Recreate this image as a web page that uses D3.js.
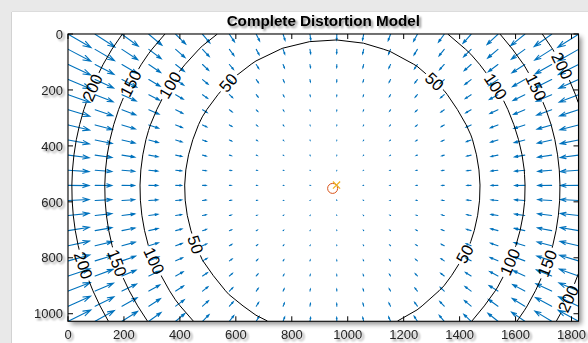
<!DOCTYPE html>
<html><head><meta charset="utf-8">
<script src="https://cdn.jsdelivr.net/npm/d3@7"></script>
<style>body{margin:0;background:#fff}svg{display:block}</style>
</head><body><svg id="c" width="588" height="343"></svg>
<script>
// ---------------- data ----------------
const gridX = [0,96,192,288,384,480,576,672,768,864,960,1056,1152,1248,1344,1440,1536,1632,1728,1824];
const gridY = [0,54,108,162,216,270,324,378,432,486,540,594,648,702,756,810,864,918,972,1026];
const principalPoint = [945, 551];      // 'o' marker, centre of distortion
const imageCenter = [960, 540];          // 'x' marker
const radialCoeffs = [375.5, -147.3];    // displacement(px) = k1*rho^3 + k2*rho^5, rho = r/1000
const contourLevels = [50, 100, 150, 200];
// contour label anchors: [level, x, y] in image pixels
const contourLabels = [
  [200, 89, 193], [150, 221, 175], [100, 364, 182], [50, 570, 172],
  [50, 1308, 172], [100, 1525, 190], [150, 1668, 193], [200, 1757, 118],
  [200, 36, 833], [150, 175, 819], [100, 299, 815], [50, 453, 754],
  [50, 1425, 790], [100, 1579, 815], [150, 1711, 819], [200, 1782, 944]
];
const xTicks = [0,200,400,600,800,1000,1200,1400,1600,1800];
const yTicks = [0,200,400,600,800,1000];
const xDomain = [0, 1825];
const yDomain = [0, 1027];
const titleText = "Complete Distortion Model";

// ---------------- layout / style ----------------
const W = 588, H = 343;
const plotLeft = 68, plotTop = 34, pxPerUnit = 0.27973;
const font = "'Liberation Sans', Arial, Helvetica, sans-serif";
const axisColor = "#262626";
const arrowColor = "#0072BD";

const svg = d3.select("#c");
const defs = svg.append("defs");

function shadowFilter(id, blur, off, op) {
  const f = defs.append("filter").attr("id", id)
    .attr("x", "-30%").attr("y", "-30%").attr("width", "160%").attr("height", "160%");
  f.append("feGaussianBlur").attr("in", "SourceAlpha").attr("stdDeviation", blur);
  f.append("feOffset").attr("dx", off).attr("dy", off).attr("result", "o");
  const ct = f.append("feComponentTransfer").attr("result", "s");
  ct.append("feFuncA").attr("type", "linear").attr("slope", op);
  const m = f.append("feMerge");
  m.append("feMergeNode").attr("in", "s");
  m.append("feMergeNode").attr("in", "SourceGraphic");
}
shadowFilter("tsh", 1.2, 1.5, 0.45);
shadowFilter("bsh", 2.5, 3, 0.45);

// window frame
svg.append("rect").attr("width", W).attr("height", H).attr("fill", "#e9e9e9");
svg.append("rect").attr("x", 12).attr("y", 12).attr("width", W - 12).attr("height", H - 12).attr("fill", "#ffffff");
svg.append("line").attr("x1", 11.5).attr("x2", 11.5).attr("y1", 12).attr("y2", H).attr("stroke", "#d2d2d2");
svg.append("line").attr("x1", 12).attr("x2", W).attr("y1", 11.5).attr("y2", 11.5).attr("stroke", "#dcdcdc");

const x = d3.scaleLinear().domain(xDomain).range([plotLeft, plotLeft + (xDomain[1] - xDomain[0]) * pxPerUnit]);
const y = d3.scaleLinear().domain(yDomain).range([plotTop, plotTop + (yDomain[1] - yDomain[0]) * pxPerUnit]);
const [x0, x1] = x.range(), [y0, y1] = y.range();

// axes background with shadow
svg.append("rect").attr("x", x0).attr("y", y0).attr("width", x1 - x0).attr("height", y1 - y0)
  .attr("fill", "#fff").attr("filter", "url(#bsh)");

defs.append("clipPath").attr("id", "plotclip").append("rect")
  .attr("x", x0).attr("y", y0).attr("width", x1 - x0).attr("height", y1 - y0);

// distortion model
function disp(px, py) {
  const dx = px - principalPoint[0], dy = py - principalPoint[1];
  const r = Math.hypot(dx, dy), rho = r / 1000;
  const m = radialCoeffs[0] * rho ** 3 + radialCoeffs[1] * rho ** 5;
  return r ? [-m * dx / r, -m * dy / r, m] : [0, 0, 0];
}

// ---------------- quiver ----------------
const pts = [];
gridY.forEach(gy => gridX.forEach(gx => {
  const d = disp(gx, gy);
  pts.push({ x: gx + 1, y: gy + 1, u: d[0], v: d[1] });
}));
const nn = Math.sqrt(pts.length);
const delx = (d3.max(gridX) - d3.min(gridX)) / nn, dely = (d3.max(gridY) - d3.min(gridY)) / nn;
const del = delx * delx + dely * dely;
const maxlen = d3.max(pts, p => Math.sqrt((p.u * p.u + p.v * p.v) / del));
const autoscale = 0.9 / maxlen;
const alpha = 0.3, beta = 0.33;
const arrowPath = pts.map(p => {
  const u = p.u * autoscale, v = p.v * autoscale;
  const tx = p.x + u, ty = p.y + v;
  const h1x = tx - alpha * (u + beta * v), h1y = ty - alpha * (v - beta * u);
  const h2x = tx - alpha * (u - beta * v), h2y = ty - alpha * (v + beta * u);
  return `M${x(p.x)},${y(p.y)}L${x(tx)},${y(ty)}M${x(h1x)},${y(h1y)}L${x(tx)},${y(ty)}L${x(h2x)},${y(h2y)}`;
}).join("");
const plot = svg.append("g").attr("clip-path", "url(#plotclip)");
plot.append("path").attr("d", arrowPath).attr("fill", "none")
  .attr("stroke", arrowColor).attr("stroke-width", 1.1).attr("stroke-linecap", "round");

// ---------------- contours ----------------
const values = [];
gridY.forEach(gy => gridX.forEach(gx => values.push(disp(gx, gy)[2])));
const nX = gridX.length, nY = gridY.length;
const cs = d3.contours().size([nX, nY]).thresholds(contourLevels)(values);
const stepX = gridX[1] - gridX[0], stepY = gridY[1] - gridY[0];
const toPx = p => [x(gridX[0] + (p[0] - 0.5) * stepX), y(gridY[0] + (p[1] - 0.5) * stepY)];
const interior = p => p[0] > 0 && p[0] < nX && p[1] > 0 && p[1] < nY;
const lines = [];
cs.forEach(c => c.coordinates.forEach(poly => poly.forEach(ring => {
  const rp = ring.slice(0, -1);
  const bi = rp.findIndex(p => !interior(p));
  if (bi < 0) { lines.push({ level: c.value, pts: rp.concat([rp[0]]).map(toPx) }); return; }
  const rot = rp.slice(bi).concat(rp.slice(0, bi));
  let cur = [];
  rot.forEach(p => {
    if (interior(p)) cur.push(p);
    else { if (cur.length > 1) lines.push({ level: c.value, pts: cur.map(toPx) }); cur = []; }
  });
  if (cur.length > 1) lines.push({ level: c.value, pts: cur.map(toPx) });
})));

// label placement on nearest contour segment
const labelFs = 16.5;
const mask = defs.append("mask").attr("id", "lblmask").attr("maskUnits", "userSpaceOnUse")
  .attr("x", 0).attr("y", 0).attr("width", W).attr("height", H);
mask.append("rect").attr("width", W).attr("height", H).attr("fill", "white");
const placed = contourLabels.map(([lev, lx, ly]) => {
  const P = [x(lx), y(ly)];
  let best = null;
  lines.filter(l => l.level === lev).forEach(l => {
    for (let i = 0; i < l.pts.length - 1; i++) {
      const a = l.pts[i], b = l.pts[i + 1];
      const vx = b[0] - a[0], vy = b[1] - a[1];
      const L2 = vx * vx + vy * vy || 1;
      let t = ((P[0] - a[0]) * vx + (P[1] - a[1]) * vy) / L2;
      t = Math.max(0, Math.min(1, t));
      const q = [a[0] + t * vx, a[1] + t * vy];
      const d = Math.hypot(q[0] - P[0], q[1] - P[1]);
      if (!best || d < best.d) best = { d, q, ang: Math.atan2(vy, vx) * 180 / Math.PI };
    }
  });
  let ang = best ? best.ang : 0;
  if (ang > 90) ang -= 180;
  if (ang <= -90) ang += 180;
  const q = best ? best.q : P;
  const w = String(lev).length * 0.556 * labelFs + 5, h = labelFs * 0.85;
  mask.append("rect").attr("x", -w / 2).attr("y", -h / 2).attr("width", w).attr("height", h)
    .attr("fill", "black").attr("transform", `translate(${q[0]},${q[1]}) rotate(${ang})`);
  return { lev, q, ang };
});

const lineGen = d3.line();
const cg = plot.append("g").attr("mask", "url(#lblmask)");
cg.selectAll("path.ct").data(lines).join("path").attr("class", "ct")
  .attr("d", l => lineGen(l.pts)).attr("fill", "none").attr("stroke", "#000").attr("stroke-width", 1);

plot.selectAll("text.cl").data(placed).join("text").attr("class", "cl")
  .attr("transform", d => `translate(${d.q[0]},${d.q[1]}) rotate(${d.ang})`)
  .attr("text-anchor", "middle").attr("dy", "0.36em")
  .attr("font-family", font).attr("font-size", labelFs).attr("fill", "#000")
  .text(d => d.lev);

// ---------------- markers ----------------
svg.append("circle").attr("cx", x(principalPoint[0] + 1)).attr("cy", y(principalPoint[1] + 1)).attr("r", 5)
  .attr("fill", "none").attr("stroke", "#D95319").attr("stroke-width", 1);
const mcx = x(imageCenter[0]), mcy = y(imageCenter[1]), ms = 3.6;
svg.append("path").attr("d", `M${mcx - ms},${mcy - ms}L${mcx + ms},${mcy + ms}M${mcx - ms},${mcy + ms}L${mcx + ms},${mcy - ms}`)
  .attr("stroke", "#EDB120").attr("stroke-width", 1.2).attr("fill", "none");

// ---------------- axes ----------------
const tk = 5;
const ax = svg.append("g");
ax.append("rect").attr("x", x0).attr("y", y0).attr("width", x1 - x0).attr("height", y1 - y0)
  .attr("fill", "none").attr("stroke", "#000").attr("stroke-width", 1.1);
let tp = "";
xTicks.forEach(t => { const X = x(t); tp += `M${X},${y1}V${y1 - tk}M${X},${y0}V${y0 + tk}`; });
yTicks.forEach(t => { const Y = y(t); tp += `M${x0},${Y}H${x0 + tk}M${x1},${Y}H${x1 - tk}`; });
ax.append("path").attr("d", tp).attr("stroke", "#000").attr("stroke-width", 1);

const tl = svg.append("g").attr("filter", "url(#tsh)")
  .attr("font-family", font).attr("font-size", 13).attr("fill", axisColor);
tl.selectAll("text.xt").data(xTicks).join("text").attr("class", "xt")
  .attr("x", d => x(d)).attr("y", 339).attr("text-anchor", "middle").text(d => d);
tl.selectAll("text.yt").data(yTicks).join("text").attr("class", "yt")
  .attr("x", 63).attr("y", d => y(d)).attr("dy", "0.36em").attr("text-anchor", "end").text(d => d);

svg.append("text").attr("x", (x0 + x1) / 2).attr("y", 26).attr("text-anchor", "middle")
  .attr("font-family", font).attr("font-size", 15.2).attr("font-weight", "bold").attr("fill", "#000")
  .attr("filter", "url(#tsh)").text(titleText);
</script></body></html>
